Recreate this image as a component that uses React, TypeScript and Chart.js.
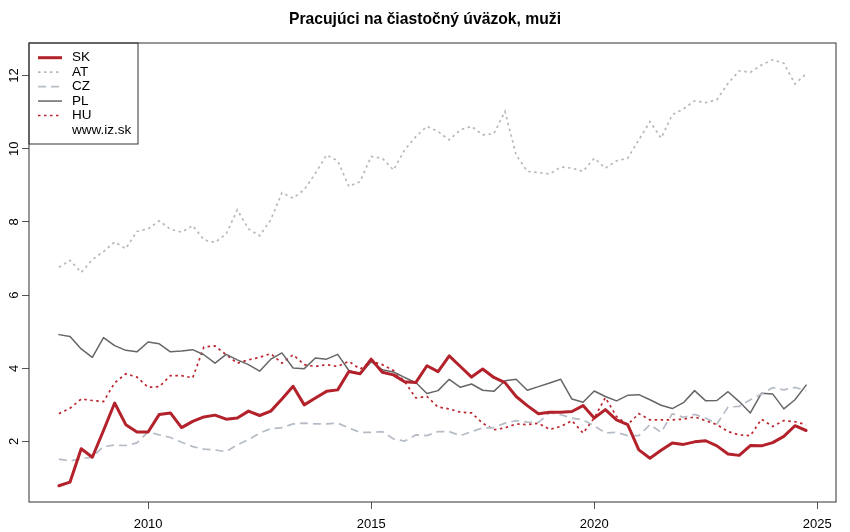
import React, { useEffect, useRef } from 'react';
import { Chart, registerables } from 'chart.js';

Chart.register(...registerables);

const TITLE = 'Pracujúci na čiastočný úväzok, muži';
const SOURCE = 'www.iz.sk';
const START_YEAR = 2008;
const QUARTER = 0.25;

const SK = [0.79, 0.89, 1.80, 1.57, 2.30, 3.05, 2.46, 2.26, 2.26, 2.74, 2.78, 2.38, 2.55, 2.67, 2.72, 2.61, 2.64, 2.83, 2.71, 2.83, 3.16, 3.51, 3.00, 3.19, 3.37, 3.41, 3.91, 3.85, 4.25, 3.89, 3.82, 3.63, 3.61, 4.07, 3.91, 4.34, 4.05, 3.76, 3.98, 3.75, 3.61, 3.23, 2.98, 2.76, 2.80, 2.80, 2.82, 2.98, 2.64, 2.87, 2.59, 2.46, 1.77, 1.54, 1.76, 1.96, 1.92, 1.99, 2.02, 1.88, 1.66, 1.62, 1.89, 1.88, 1.97, 2.14, 2.43, 2.30];
const AT = [6.76, 6.95, 6.62, 6.97, 7.19, 7.45, 7.27, 7.74, 7.81, 8.03, 7.80, 7.72, 7.90, 7.51, 7.44, 7.67, 8.33, 7.81, 7.62, 8.06, 8.80, 8.65, 8.88, 9.33, 9.83, 9.67, 8.97, 9.10, 9.79, 9.74, 9.42, 9.97, 10.33, 10.61, 10.47, 10.24, 10.52, 10.61, 10.38, 10.41, 11.02, 9.83, 9.38, 9.35, 9.31, 9.50, 9.47, 9.38, 9.74, 9.47, 9.67, 9.74, 10.24, 10.74, 10.29, 10.93, 11.09, 11.31, 11.26, 11.34, 11.79, 12.13, 12.09, 12.29, 12.43, 12.34, 11.77, 12.05];
const CZ = [1.52, 1.47, 1.53, 1.57, 1.86, 1.90, 1.89, 1.96, 2.26, 2.18, 2.11, 1.98, 1.86, 1.79, 1.77, 1.72, 1.91, 2.05, 2.23, 2.35, 2.38, 2.48, 2.50, 2.48, 2.48, 2.50, 2.37, 2.25, 2.25, 2.27, 2.07, 2.01, 2.18, 2.16, 2.27, 2.27, 2.16, 2.27, 2.37, 2.38, 2.50, 2.57, 2.53, 2.52, 2.78, 2.73, 2.64, 2.59, 2.43, 2.23, 2.25, 2.16, 2.16, 2.46, 2.25, 2.76, 2.66, 2.74, 2.64, 2.48, 2.94, 2.96, 3.14, 3.30, 3.47, 3.41, 3.48, 3.39];
const PL = [4.92, 4.87, 4.53, 4.30, 4.84, 4.62, 4.49, 4.45, 4.72, 4.67, 4.45, 4.47, 4.51, 4.37, 4.14, 4.38, 4.23, 4.10, 3.92, 4.25, 4.42, 4.01, 3.99, 4.28, 4.25, 4.38, 3.94, 3.84, 4.18, 3.96, 3.90, 3.75, 3.61, 3.31, 3.39, 3.70, 3.48, 3.57, 3.40, 3.37, 3.66, 3.70, 3.40, 3.50, 3.60, 3.70, 3.16, 3.07, 3.38, 3.23, 3.11, 3.26, 3.28, 3.14, 2.99, 2.90, 3.06, 3.39, 3.11, 3.12, 3.36, 3.09, 2.78, 3.32, 3.30, 2.89, 3.14, 3.54];
const HU = [2.76, 2.91, 3.16, 3.12, 3.09, 3.60, 3.85, 3.76, 3.48, 3.50, 3.80, 3.80, 3.74, 4.58, 4.61, 4.37, 4.14, 4.23, 4.30, 4.40, 4.14, 4.37, 4.10, 4.05, 4.10, 4.05, 4.19, 3.98, 4.19, 4.10, 3.94, 3.64, 3.19, 3.23, 2.94, 2.89, 2.80, 2.78, 2.50, 2.32, 2.37, 2.48, 2.46, 2.50, 2.33, 2.41, 2.57, 2.23, 2.64, 3.20, 2.68, 2.46, 2.76, 2.59, 2.59, 2.59, 2.61, 2.67, 2.57, 2.46, 2.27, 2.18, 2.16, 2.61, 2.41, 2.57, 2.54, 2.46];

const X_TICKS = [2010, 2015, 2020, 2025];
const Y_TICKS = [2, 4, 6, 8, 10, 12];
const X_MIN = 2007.33;
const X_MAX = 2025.42;
const Y_MIN = 0.346;
const Y_MAX = 12.89;

const FONT = "'Liberation Sans', Arial, Helvetica, sans-serif";

const toPoints = (vals: number[]) => vals.map((v, i) => ({ x: START_YEAR + i * QUARTER, y: v }));

const titlePlugin = {
  id: 'rTitle',
  afterDraw(chart: any) {
    const { ctx, width } = chart;
    ctx.save();
    ctx.fillStyle = '#000';
    ctx.font = `bold 15.7px ${FONT}`;
    ctx.textAlign = 'center';
    ctx.textBaseline = 'middle';
    ctx.fillText(TITLE, width / 2, 20);
    ctx.restore();
  },
};

const framePlugin = {
  id: 'frame',
  afterDraw(chart: any) {
    const { ctx, chartArea } = chart;
    ctx.save();
    ctx.strokeStyle = '#333';
    ctx.lineWidth = 1;
    ctx.setLineDash([]);
    ctx.strokeRect(chartArea.left, chartArea.top, chartArea.right - chartArea.left, chartArea.bottom - chartArea.top);
    ctx.restore();
  },
};

const legendPlugin = {
  id: 'rLegend',
  afterDatasetsDraw(chart: any) {
    const { ctx, chartArea } = chart;
    const x0 = chartArea.left;
    const y0 = chartArea.top;
    const w = 109;
    const h = 101;
    ctx.save();
    ctx.fillStyle = '#fff';
    ctx.fillRect(x0, y0, w, h);
    ctx.strokeStyle = '#333';
    ctx.lineWidth = 1;
    ctx.setLineDash([]);
    ctx.strokeRect(x0, y0, w, h);
    const rowH = 14.45;
    const firstY = y0 + 14.7;
    ctx.font = `13.5px ${FONT}`;
    ctx.textBaseline = 'middle';
    ctx.textAlign = 'left';
    chart.data.datasets.forEach((ds: any, i: number) => {
      const y = firstY + i * rowH;
      ctx.beginPath();
      ctx.strokeStyle = ds.borderColor;
      ctx.lineWidth = ds.borderWidth;
      ctx.setLineDash(ds.borderDash || []);
      ctx.moveTo(x0 + 9, y);
      ctx.lineTo(x0 + 33, y);
      ctx.stroke();
      ctx.setLineDash([]);
      ctx.fillStyle = '#000';
      ctx.fillText(ds.label, x0 + 43, y);
    });
    ctx.fillStyle = '#000';
    ctx.fillText(SOURCE, x0 + 43, firstY + chart.data.datasets.length * rowH);
    ctx.restore();
  },
};

export default function App() {
  const canvasRef = useRef<HTMLCanvasElement | null>(null);

  useEffect(() => {
    document.body.style.margin = '0';
    const canvas = canvasRef.current;
    if (!canvas) return;
    const chart = new Chart(canvas, {
      type: 'line',
      data: {
        datasets: [
          { label: 'SK', data: toPoints(SK), borderColor: '#B3212B', borderWidth: 3, borderDash: [], pointRadius: 0, borderCapStyle: 'round', borderJoinStyle: 'round' },
          { label: 'AT', data: toPoints(AT), borderColor: '#B8B8B8', borderWidth: 1.7, borderDash: [2.5, 3.5], pointRadius: 0 },
          { label: 'CZ', data: toPoints(CZ), borderColor: '#B5BCC6', borderWidth: 1.7, borderDash: [8, 5], pointRadius: 0 },
          { label: 'PL', data: toPoints(PL), borderColor: '#666666', borderWidth: 1.5, borderDash: [], pointRadius: 0, borderCapStyle: 'round', borderJoinStyle: 'round' },
          { label: 'HU', data: toPoints(HU), borderColor: '#BC252D', borderWidth: 1.7, borderDash: [2.5, 3.5], pointRadius: 0 },
        ] as any,
      },
      options: {
        responsive: false,
        animation: false,
        layout: { padding: { left: 0, right: 14, top: 43, bottom: 0 } },
        elements: { line: { tension: 0, fill: false } },
        plugins: {
          legend: { display: false },
          tooltip: { enabled: false },
          title: { display: false },
        },
        scales: {
          x: {
            type: 'linear',
            min: X_MIN,
            max: X_MAX,
            afterBuildTicks: (scale: any) => {
              scale.ticks = X_TICKS.map((v) => ({ value: v }));
            },
            afterFit: (scale: any) => {
              scale.height = 30;
            },
            grid: { display: true, drawOnChartArea: false, drawTicks: true, tickLength: 7, color: '#555' },
            border: { display: false },
            ticks: {
              autoSkip: false,
              maxRotation: 0,
              padding: 8,
              color: '#000',
              font: { family: FONT, size: 13 },
              callback: (v: any) => String(v),
            },
          },
          y: {
            type: 'linear',
            min: Y_MIN,
            max: Y_MAX,
            afterBuildTicks: (scale: any) => {
              scale.ticks = Y_TICKS.map((v) => ({ value: v }));
            },
            afterFit: (scale: any) => {
              scale.width = 29;
            },
            grid: { display: true, drawOnChartArea: false, drawTicks: true, tickLength: 7, color: '#555' },
            border: { display: false },
            ticks: {
              autoSkip: false,
              minRotation: 90,
              maxRotation: 90,
              crossAlign: 'center',
              padding: 0,
              color: '#000',
              font: { family: FONT, size: 13 },
              callback: (v: any) => String(v),
            },
          },
        },
      } as any,
      plugins: [legendPlugin, framePlugin, titlePlugin],
    });
    return () => chart.destroy();
  }, []);

  return (
    <div style={{ position: 'absolute', left: 0, top: 0, width: 850, height: 532 }}>
      <canvas ref={canvasRef} width={850} height={532} />
    </div>
  );
}
